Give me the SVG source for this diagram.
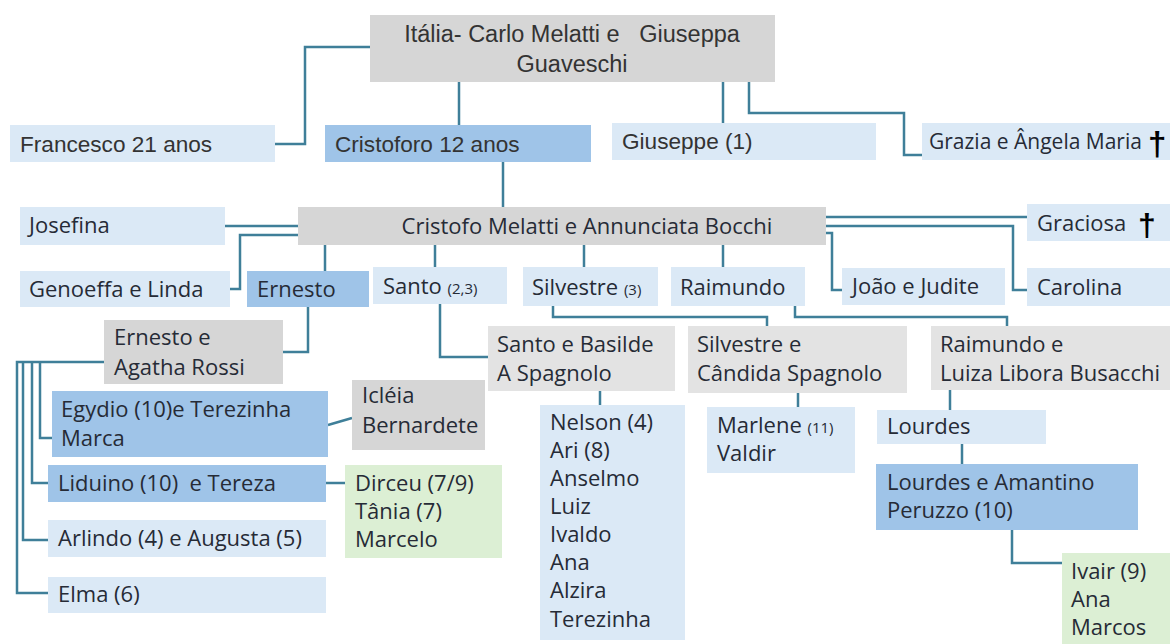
<svg xmlns="http://www.w3.org/2000/svg" width="1170" height="644" viewBox="0 0 1170 644">
<style>
.lb{fill:#dbe9f6}
.mb{fill:#9fc4e8}
.gr{fill:#d6d6d6}
.lg{fill:#e3e3e3}
.gn{fill:#dcefd4}
text{font-family:"Open Sans","Liberation Sans",sans-serif;font-size:22px;fill:#262b36}
.ar{font-family:"Liberation Sans",Arial,sans-serif;font-size:22.6px;fill:#333}
.tp{font-size:23.5px}
.sm{font-size:15px}
.dg{font-family:"Liberation Sans",Arial,sans-serif;font-weight:bold;fill:#000}
#connectors path{fill:none;stroke:#3f7f99;stroke-width:2.5}
</style>
<rect width="1170" height="644" fill="#fff"/>
<g id="connectors">
<path d="M370 47H305V144H275"/>
<path d="M459 82V125"/>
<path d="M723 82V123"/>
<path d="M749 82V113H904V155H922"/>
<path d="M503 162V207"/>
<path d="M225 226H298"/>
<path d="M298 235H240V289H230"/>
<path d="M325 245V271"/>
<path d="M435 245V267"/>
<path d="M584 245V267"/>
<path d="M723 245V267"/>
<path d="M826 217H1027"/>
<path d="M826 226H1013V290H1027"/>
<path d="M826 233H832V290H842"/>
<path d="M308 307V352H283"/>
<path d="M104 362H17V593H48"/>
<path d="M23 362V540H48"/>
<path d="M32 362V483H48"/>
<path d="M40 362V438H52"/>
<path d="M328 425L352 418"/>
<path d="M326 483H345"/>
<path d="M440 304V357H488"/>
<path d="M553 306V317H767V326"/>
<path d="M795 306V317H1007V326"/>
<path d="M600 391V405"/>
<path d="M798 393V407"/>
<path d="M950 390V410"/>
<path d="M962 444V464"/>
<path d="M1012 530V563H1062"/>
</g>
<g id="n-italia"><rect class="gr" x="370" y="15" width="405" height="67"/><text class="ar tp" x="572" y="42" text-anchor="middle" xml:space="preserve">Itália- Carlo Melatti e   Giuseppa</text><text class="ar tp" x="572" y="72" text-anchor="middle">Guaveschi</text></g>
<g id="n-francesco"><rect class="lb" x="10" y="125" width="265" height="37"/><text class="ar" x="20" y="152">Francesco 21 anos</text></g>
<g id="n-cristoforo"><rect class="mb" x="325" y="125" width="266" height="37"/><text class="ar" x="335" y="152">Cristoforo 12 anos</text></g>
<g id="n-giuseppe"><rect class="lb" x="612" y="123" width="264" height="37"/><text class="ar" x="622" y="149">Giuseppe (1)</text></g>
<g id="n-grazia"><rect class="lb" x="922" y="123" width="248" height="37"/><text x="929" y="149" style="font-size:21px">Grazia e Ângela Maria</text><text class="dg" x="1148" y="155" style="font-size:33px">†</text></g>
<g id="n-cristofo"><rect class="gr" x="298" y="207" width="528" height="38"/><text x="587" y="234" text-anchor="middle">Cristofo Melatti e Annunciata Bocchi</text></g>
<g id="n-josefina"><rect class="lb" x="20" y="207" width="205" height="38"/><text x="29" y="233">Josefina</text></g>
<g id="n-genoeffa"><rect class="lb" x="20" y="271" width="210" height="36"/><text x="29" y="297">Genoeffa e Linda</text></g>
<g id="n-ernesto"><rect class="mb" x="247" y="271" width="122" height="36"/><text x="257" y="297">Ernesto</text></g>
<g id="n-santo"><rect class="lb" x="373" y="267" width="134" height="37"/><text x="383" y="294">Santo <tspan class="sm">(2,3)</tspan></text></g>
<g id="n-silvestre"><rect class="lb" x="523" y="267" width="135" height="39"/><text x="532" y="295">Silvestre <tspan class="sm">(3)</tspan></text></g>
<g id="n-raimundo"><rect class="lb" x="671" y="267" width="134" height="39"/><text x="680" y="295">Raimundo</text></g>
<g id="n-joao"><rect class="lb" x="842" y="268" width="163" height="37"/><text x="852" y="294">João e Judite</text></g>
<g id="n-carolina"><rect class="lb" x="1027" y="268" width="143" height="38"/><text x="1037" y="295">Carolina</text></g>
<g id="n-graciosa"><rect class="lb" x="1027" y="204" width="143" height="37"/><text x="1037" y="231">Graciosa</text><text class="dg" x="1138" y="236" style="font-size:32px">†</text></g>
<g id="n-ernesto-agatha"><rect class="gr" x="104" y="320" width="179" height="64"/><text x="114" y="345">Ernesto e</text><text x="114" y="375">Agatha Rossi</text></g>
<g id="n-egydio"><rect class="mb" x="52" y="391" width="276" height="66"/><text x="61" y="417">Egydio (10)e Terezinha</text><text x="61" y="446">Marca</text></g>
<g id="n-icleia"><rect class="gr" x="352" y="380" width="133" height="70"/><text x="362" y="403">Icléia</text><text x="362" y="433">Bernardete</text></g>
<g id="n-liduino"><rect class="mb" x="48" y="465" width="278" height="37"/><text x="58" y="491" xml:space="preserve">Liduino (10)  e Tereza</text></g>
<g id="n-dirceu"><rect class="gn" x="345" y="465" width="157" height="93"/><text x="355" y="491">Dirceu (7/9)</text><text x="355" y="519">Tânia (7)</text><text x="355" y="547">Marcelo</text></g>
<g id="n-arlindo"><rect class="lb" x="48" y="520" width="278" height="37"/><text x="58" y="546">Arlindo (4) e Augusta (5)</text></g>
<g id="n-elma"><rect class="lb" x="48" y="577" width="278" height="36"/><text x="58" y="602">Elma (6)</text></g>
<g id="n-santo-basilde"><rect class="lg" x="488" y="326" width="187" height="65"/><text x="497" y="352">Santo e Basilde</text><text x="497" y="381">A Spagnolo</text></g>
<g id="n-silvestre-candida"><rect class="lg" x="688" y="326" width="219" height="67"/><text x="697" y="352">Silvestre e</text><text x="697" y="381">Cândida Spagnolo</text></g>
<g id="n-raimundo-luiza"><rect class="lg" x="931" y="326" width="239" height="64"/><text x="940" y="352">Raimundo e</text><text x="940" y="381">Luiza Libora Busacchi</text></g>
<g id="n-nelson"><rect class="lb" x="540" y="405" width="145" height="235"/><text x="550" y="430">Nelson (4)</text><text x="550" y="458">Ari (8)</text><text x="550" y="486">Anselmo</text><text x="550" y="514">Luiz</text><text x="550" y="542">Ivaldo</text><text x="550" y="570">Ana</text><text x="550" y="598">Alzira</text><text x="550" y="627">Terezinha</text></g>
<g id="n-marlene"><rect class="lb" x="707" y="407" width="148" height="66"/><text x="717" y="433">Marlene <tspan class="sm">(11)</tspan></text><text x="717" y="461">Valdir</text></g>
<g id="n-lourdes"><rect class="lb" x="877" y="410" width="169" height="34"/><text x="887" y="434">Lourdes</text></g>
<g id="n-lourdes-amantino"><rect class="mb" x="876" y="464" width="262" height="66"/><text x="887" y="490">Lourdes e Amantino</text><text x="887" y="518">Peruzzo (10)</text></g>
<g id="n-ivair"><rect class="gn" x="1062" y="553" width="108" height="91"/><text x="1071" y="579">Ivair (9)</text><text x="1071" y="607">Ana</text><text x="1071" y="635">Marcos</text></g>
</svg>
